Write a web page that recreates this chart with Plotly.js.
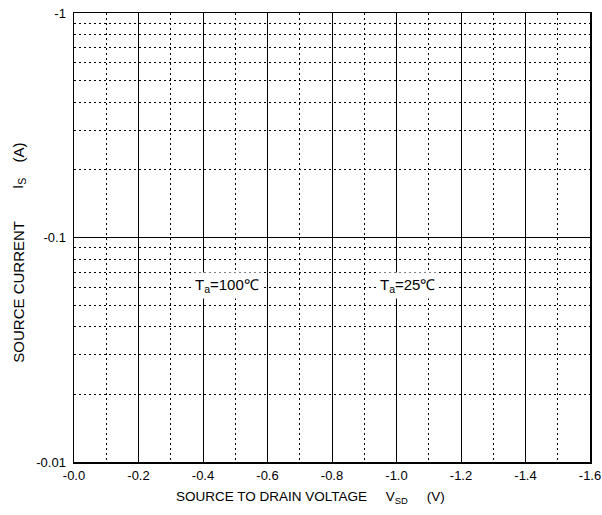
<!DOCTYPE html>
<html><head><meta charset="utf-8">
<script src="https://cdn.plot.ly/plotly-3.0.1.min.js"></script>
<style>body{margin:0;background:#fff}#chart{width:602px;height:515px}</style>
</head><body><div id="chart"></div>
<script>
// Axis ticks (source-to-drain voltage, volts)
const xMajorTicks = [0, -0.2, -0.4, -0.6, -0.8, -1.0, -1.2, -1.4, -1.6];
const xTickLabels = ['-0.0', '-0.2', '-0.4', '-0.6', '-0.8', '-1.0', '-1.2', '-1.4', '-1.6'];
const xMinorTicks = [-0.1, -0.3, -0.5, -0.7, -0.9, -1.1, -1.3, -1.5];
// Source current magnitude |Is| (A), log axis; labels are negative values
const yMajorTicks = [1, 0.1, 0.01];
const yTickLabels = ['-1', '-0.1', '-0.01'];
const yMinorTicks = [0.9, 0.8, 0.7, 0.6, 0.5, 0.4, 0.3, 0.2, 0.09, 0.08, 0.07, 0.06, 0.05, 0.04, 0.03, 0.02];
// Curve labels
const curveLabels = ['T<sub>a</sub>=100℃', 'T<sub>a</sub>=25℃'];
const labelVsd = [-0.474, -1.035];
const labelIs = [0.0614, 0.0614];
// Y-axis title parts
const yTitleParts = ['SOURCE CURRENT', 'I<sub>S</sub>', '(A)'];

const FONT = 'Liberation Sans, Arial, sans-serif';

const data = [{
  x: [], y: [], type: 'scatter', mode: 'lines',
  line: {color: '#000', width: 1.5}, showlegend: false, hoverinfo: 'skip'
}];

const annotations = curveLabels.map((t, i) => ({
  x: labelVsd[i], y: Math.log10(labelIs[i]), xref: 'x', yref: 'y',
  text: t, showarrow: false, bgcolor: '#fff', borderpad: 3,
  font: {family: FONT, size: 15, color: '#000'}
}));

const gap = '&nbsp;&nbsp;&nbsp;&nbsp;&nbsp;';
annotations.push({
  xref: 'paper', yref: 'paper', x: 0.459, y: -0.056, yanchor: 'top',
  text: 'SOURCE TO DRAIN VOLTAGE' + gap + 'V<sub>SD</sub>' + gap + '(V)',
  showarrow: false, font: {family: FONT, size: 13.5, color: '#000'}
});
// y title pieces placed along the left margin (paper fractions)
const yTitlePos = [0.38, 0.620, 0.690];
yTitleParts.forEach((t, i) => {
  annotations.push({
    xref: 'paper', yref: 'paper', x: -0.108, y: yTitlePos[i], xanchor: 'center', yanchor: 'middle',
    textangle: -90, text: t, showarrow: false,
    font: {family: FONT, size: 15, color: '#000'}
  });
});

const layout = {
  width: 602, height: 515,
  margin: {l: 74, r: 12, t: 13, b: 53},
  paper_bgcolor: '#fff', plot_bgcolor: '#fff',
  font: {family: FONT, size: 13, color: '#000'},
  showlegend: false,
  xaxis: {
    range: [0, -1.6], tickmode: 'array', tickvals: xMajorTicks, ticktext: xTickLabels,
    showgrid: true, gridcolor: '#000', gridwidth: 1,
    showline: true, mirror: true, linecolor: '#000', linewidth: 1.5,
    ticks: '', ticklabelstandoff: 1, zeroline: false,
    tickfont: {family: FONT, size: 13, color: '#000'},
    minor: {tickmode: 'array', tickvals: xMinorTicks, showgrid: true, gridcolor: '#000',
            gridwidth: 1, griddash: '2px,3px', ticks: ''}
  },
  yaxis: {
    type: 'log', range: [-2, 0], tickmode: 'array', tickvals: yMajorTicks, ticktext: yTickLabels,
    showgrid: true, gridcolor: '#000', gridwidth: 1,
    showline: true, mirror: true, linecolor: '#000', linewidth: 1.5,
    ticks: '', ticklabelstandoff: 4, zeroline: false,
    tickfont: {family: FONT, size: 13, color: '#000'},
    minor: {tickmode: 'array', tickvals: yMinorTicks, showgrid: true, gridcolor: '#000',
            gridwidth: 1, griddash: '2px,3px', ticks: ''}
  },
  annotations: annotations
};

Plotly.newPlot('chart', data, layout, {staticPlot: true, displayModeBar: false});
</script>
</body></html>
